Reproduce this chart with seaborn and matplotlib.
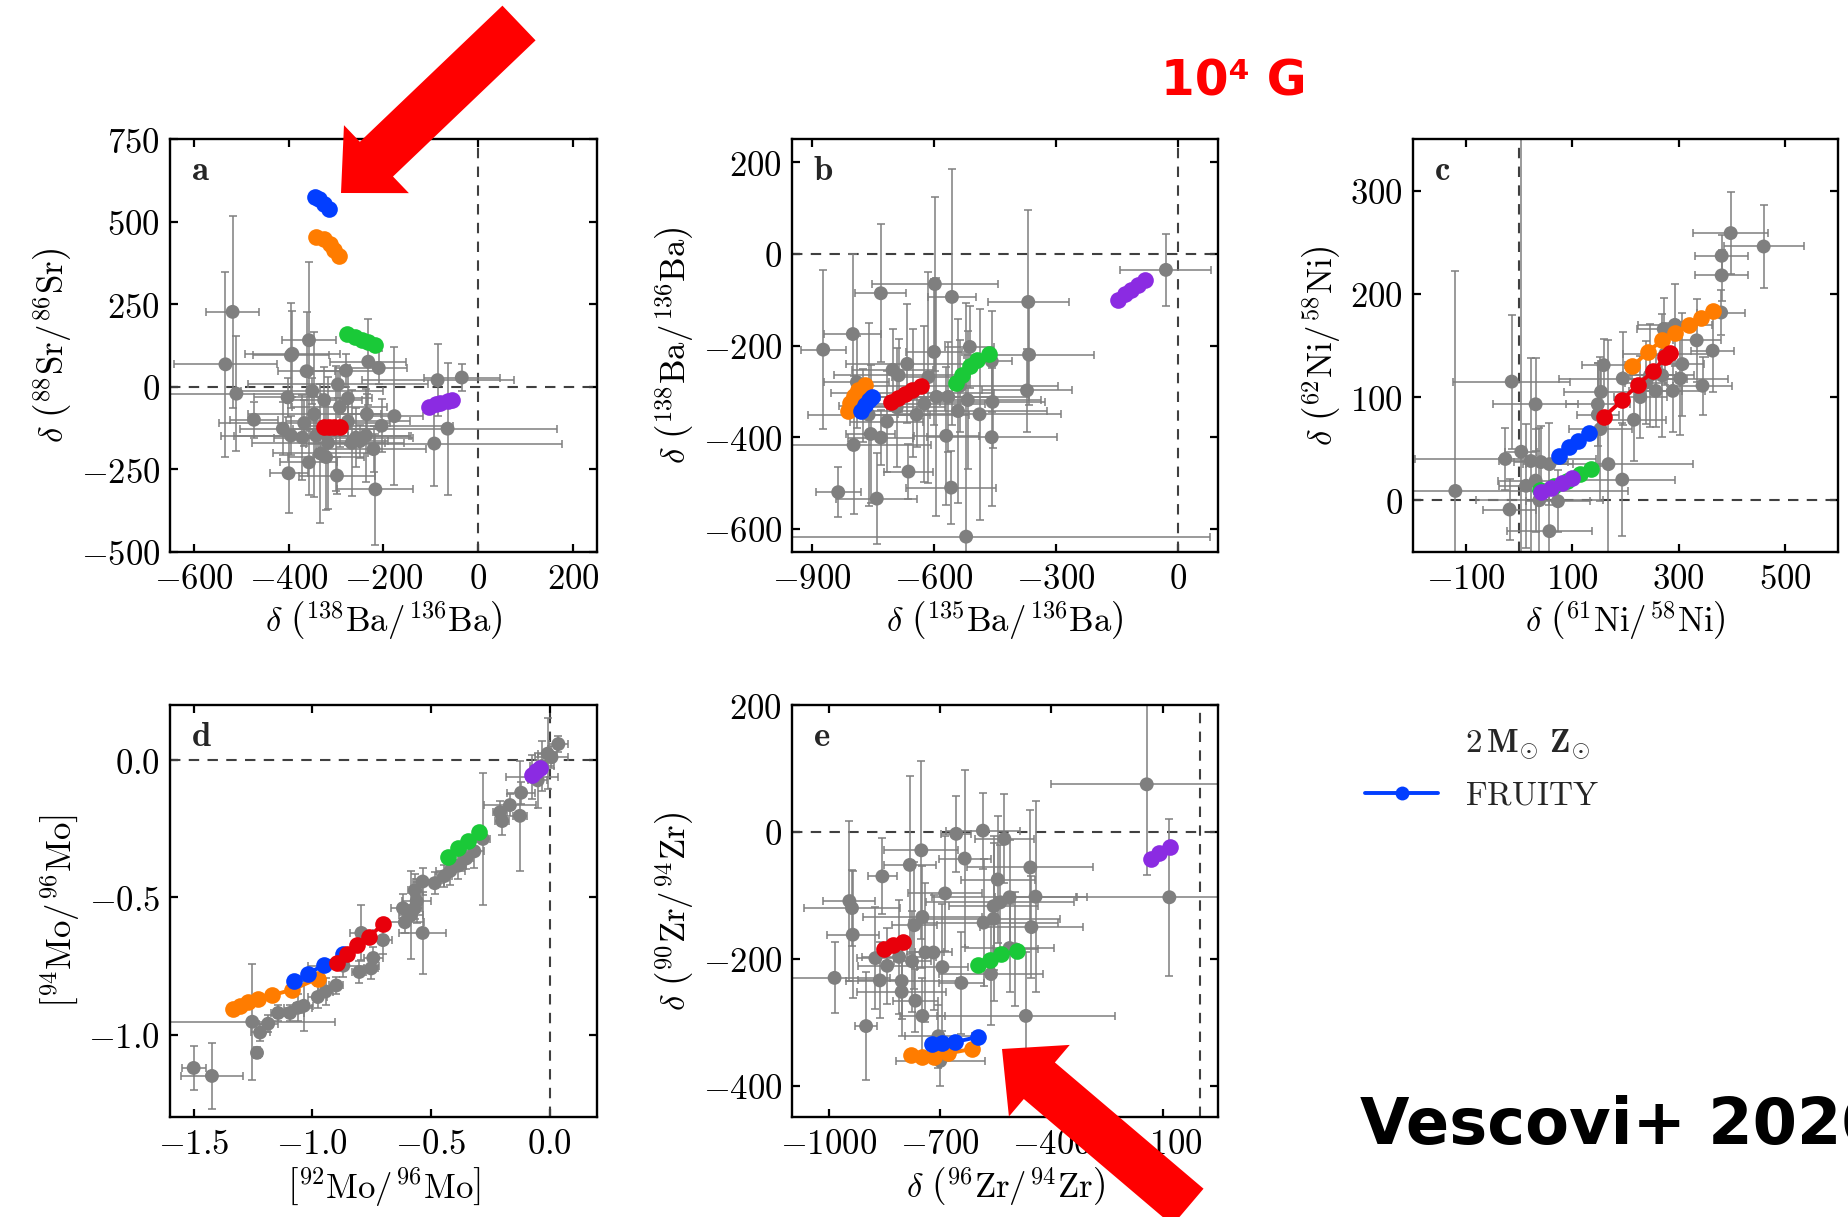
import numpy as np
import matplotlib
matplotlib.use("Agg")
import matplotlib.pyplot as plt
from matplotlib.ticker import FuncFormatter, FixedLocator
from matplotlib.patches import FancyArrow
from matplotlib.lines import Line2D
import seaborn as sns

# ---------------------------------------------------------------- grain data
# panel a : d(138Ba/136Ba) vs d(88Sr/86Sr)
a_x = [-518, -533, -510, -473, -392, -395, -357, -362, -402, -412, -395, -400, -357, -321, -298,
       -217, -221, -237, -235, -204, -177, -232, -210, -279, -296, -86, -35, -65, -93, -350,
       -325, -346, -292, -275, -267, -317, -342, -300, -250, -367, -333, -275, -258, -371]
a_y = [227, 68, -21, -100, 100, 95, 141, 47, -32, -127, -148, -262, -229, -213, -269,
       -311, -189, -148, -83, -118, -89, 76, 57, 49, 7, 20, 28, -127, -172, -13,
       -40, -83, -62, -105, -170, -170, -148, -127, -165, -110, -202, -35, -154, -154]
a_xe = [55, 108, 170, 50, 100, 80, 56, 60, 70, 90, 120, 40, 60, 80, 80,
        80, 110, 90, 60, 150, 60, 80, 60, 70, 190, 160, 80, 230, 270, 150,
        80, 140, 100, 130, 70, 160, 200, 90, 60, 180, 100, 50, 120, 60]
a_ye = [290, 280, 175, 55, 130, 160, 236, 180, 60, 80, 60, 119, 100, 160, 55,
        168, 70, 140, 60, 80, 210, 130, 50, 50, 40, 110, 40, 200, 130, 40,
        100, 250, 120, 70, 160, 200, 60, 190, 50, 70, 210, 90, 90, 130]

# panel b : d(135Ba/136Ba) vs d(138Ba/136Ba)
b_x = [-873, -800, -731, -798, -836, -741, -663, -598, -556, -600, -512, -458, -368, -366, -371,
       -29, -558, -521, -458, -456, -488, -570, -702, -687, -666, -790, -756, -731, -761, -643,
       -653, -614, -594, -565, -536, -517, -541, -692, -716, -775, -624]
b_y = [-209, -175, -86, -417, -520, -534, -475, -66, -94, -214, -203, -234, -105, -220, -298,
       -35, -510, -617, -400, -323, -350, -397, -253, -265, -240, -280, -393, -401, -351, -351,
       -304, -269, -312, -312, -288, -319, -343, -335, -366, -331, -327]
b_xe = [55, 70, 63, 190, 55, 100, 60, 156, 60, 70, 60, 50, 100, 160, 110,
        112, 110, 600, 160, 130, 200, 80, 100, 160, 150, 80, 60, 80, 150, 130,
        200, 90, 140, 200, 240, 180, 220, 120, 90, 60, 150]
b_ye = [173, 175, 150, 150, 55, 100, 60, 190, 280, 160, 90, 110, 200, 110, 90,
        79, 80, 510, 150, 100, 230, 150, 90, 80, 130, 100, 150, 60, 200, 70,
        140, 230, 260, 120, 100, 150, 200, 130, 110, 80, 170]

# panel c : d(61Ni/58Ni) vs d(62Ni/58Ni)
c_x = [-120, -14, 31, 4, -26, -18, 57, 22, 41, 57, 13, 31, 38, 73, 168,
       194, 153, 148, 148, 154, 159, 195, 216, 228, 257, 269, 272, 293, 289, 303,
       307, 334, 345, 364, 380, 381, 381, 398, 460, 246, 239, 275]
c_y = [9, 115, 93, 47, 40, -9, -30, 38, 37, 35, 14, 19, 0, -1, 35,
       20, 69, 83, 93, 105, 131, 118, 78, 100, 106, 121, 166, 170, 106, 118,
       132, 155, 111, 145, 182, 218, 237, 259, 246, 121, 114, 142]
c_xe = [325, 110, 80, 30, 170, 50, 80, 60, 50, 45, 50, 70, 120, 60, 160,
        100, 60, 40, 60, 70, 40, 120, 60, 50, 50, 60, 50, 70, 60, 90,
        40, 45, 55, 40, 45, 50, 50, 70, 75, 50, 40, 80]
c_ye = [213, 65, 45, 400, 30, 30, 35, 100, 35, 40, 60, 50, 70, 30, 120,
        55, 70, 50, 40, 30, 25, 45, 40, 40, 35, 60, 30, 40, 40, 55,
        50, 40, 28, 40, 22, 25, 20, 40, 40, 50, 40, 30]

# panel d : [92Mo/96Mo] vs [94Mo/96Mo]
d_x = [-1.500, -1.423, -1.233, -1.253, -1.220, -1.186, -1.144, -1.094, -1.061, -1.036, -0.977, -0.944,
       -0.899, -0.869, -0.802, -0.752, -0.743, -0.702, -0.793, -0.618, -0.610, -0.585, -0.560, -0.568,
       -0.535, -0.535, -0.484, -0.443, -0.418, -0.384, -0.351, -0.317, -0.281, -0.200, -0.209, -0.167,
       -0.125, -0.120, -0.075, -0.033, -0.008, 0.008, 0.037, -0.050, -0.568]
d_y = [-1.120, -1.149, -1.065, -0.952, -0.991, -0.959, -0.920, -0.920, -0.901, -0.894, -0.862, -0.842,
       -0.820, -0.748, -0.771, -0.758, -0.720, -0.655, -0.629, -0.539, -0.590, -0.565, -0.513, -0.474,
       -0.442, -0.629, -0.448, -0.422, -0.403, -0.384, -0.358, -0.332, -0.287, -0.222, -0.190, -0.164,
       -0.203, -0.119, -0.061, -0.022, 0.023, 0.010, 0.058, -0.074, -0.539]
d_xe = [0.05, 0.13, 0.02, 0.35, 0.04, 0.04, 0.03, 0.06, 0.06, 0.04, 0.04, 0.03,
        0.03, 0.15, 0.03, 0.03, 0.04, 0.04, 0.05, 0.05, 0.08, 0.05, 0.06, 0.03,
        0.04, 0.10, 0.04, 0.03, 0.06, 0.03, 0.03, 0.04, 0.03, 0.03, 0.03, 0.11,
        0.03, 0.06, 0.11, 0.05, 0.04, 0.07, 0.04, 0.04, 0.03]
d_ye = [0.08, 0.12, 0.02, 0.21, 0.03, 0.03, 0.03, 0.03, 0.05, 0.09, 0.04, 0.05,
        0.03, 0.04, 0.04, 0.04, 0.04, 0.05, 0.10, 0.05, 0.04, 0.16, 0.08, 0.06,
        0.05, 0.15, 0.04, 0.04, 0.05, 0.05, 0.04, 0.06, 0.24, 0.05, 0.04, 0.04,
        0.20, 0.04, 0.08, 0.09, 0.13, 0.04, 0.03, 0.10, 0.04]

# panel e : d(96Zr/94Zr) vs d(90Zr/94Zr)
e_x = [-143, -82, -985, -945, -938, -936, -900, -856, -875, -863, -843, -811, -804, -804, -782,
       -751, -776, -767, -748, -770, -740, -718, -748, -687, -694, -657, -634, -643, -585, -545,
       -527, -583, -556, -556, -538, -513, -457, -443, -454, -563, -513, -469, -705, -700, -497]
e_y = [75, -103, -230, -109, -120, -162, -306, -70, -199, -234, -211, -197, -235, -252, -52,
       -29, -204, -266, -134, -147, -190, -190, -290, -97, -213, -3, -42, -238, 2, -75,
       -11, -143, -137, -117, -111, -103, -56, -102, -150, -224, -183, -290, -322, -361, -185]
e_xe = [257, 250, 150, 70, 130, 70, 30, 40, 50, 60, 80, 100, 150, 120, 70,
        100, 50, 60, 160, 60, 50, 50, 60, 100, 70, 40, 70, 60, 100, 100,
        80, 200, 180, 120, 200, 210, 170, 110, 140, 140, 120, 240, 90, 120, 60]
e_ye = [143, 124, 56, 126, 60, 100, 85, 60, 80, 60, 60, 90, 60, 70, 140,
        140, 80, 50, 80, 100, 110, 90, 60, 90, 100, 60, 140, 80, 60, 100,
        70, 100, 130, 100, 90, 90, 90, 150, 80, 80, 70, 100, 50, 40, 90]

# ---------------------------------------------------------------- model tracks
a_orange = ([-342, -325, -313, -305, -293], [455, 448, 433, 415, 396])
a_blue = ([-344, -335, -325, -315], [575, 568, 555, 540])
a_red = ([-325, -315, -305, -292], [-121, -121, -121, -121])
a_green = ([-277, -260, -245, -232, -218], [160, 152, 143, 135, 127])
a_purple = ([-104, -90, -80, -65, -55], [-60, -52, -48, -43, -40])

b_orange = ([-811, -806, -798, -788, -770], [-342, -325, -310, -298, -287])
b_blue = ([-780, -770, -760, -752], [-343, -330, -318, -313])
b_red = ([-707, -690, -672, -655, -632], [-323, -315, -305, -298, -288])
b_green = ([-546, -530, -512, -495, -465], [-282, -265, -245, -232, -218])
b_purple = ([-146, -130, -115, -98, -80], [-101, -88, -78, -68, -58])

c_orange = ([213, 243, 268, 294, 319, 343, 364], [130, 144, 155, 162, 170, 177, 183])
c_blue = ([75, 93, 111, 132], [43, 52, 57, 65])
c_red = ([160, 194, 223, 252, 275, 284], [81, 97, 112, 125, 139, 143])
c_green = ([40, 65, 90, 115, 135], [10, 14, 19, 25, 30])
c_purple = ([42, 60, 80, 100], [8, 12, 17, 22])

d_orange = ([-1.336, -1.303, -1.273, -1.228, -1.169, -1.086, -0.977],
            [-0.907, -0.894, -0.881, -0.868, -0.855, -0.836, -0.795])
d_blue = ([-1.077, -1.019, -0.952, -0.869], [-0.804, -0.778, -0.745, -0.707])
d_red = ([-0.894, -0.852, -0.810, -0.760, -0.702], [-0.739, -0.707, -0.674, -0.642, -0.597])
d_green = ([-0.426, -0.384, -0.342, -0.297], [-0.351, -0.319, -0.293, -0.261])
d_purple = ([-0.075, -0.058, -0.042], [-0.054, -0.041, -0.028])

e_orange = ([-780, -748, -716, -678, -614], [-351, -355, -354, -349, -342])
e_blue = ([-721, -694, -659, -598], [-335, -332, -331, -323])
e_red = ([-851, -827, -801], [-185, -179, -174])
e_green = ([-598, -567, -535, -492], [-210, -202, -193, -188])
e_purple = ([-132, -109, -80], [-42, -34, -24])

# ---------------------------------------------------------------- axes text
labels_x = [r"$\delta\ \left(^{138}\mathrm{Ba}/^{136}\mathrm{Ba}\right)$",
            r"$\delta\ \left(^{135}\mathrm{Ba}/^{136}\mathrm{Ba}\right)$",
            r"$\delta\ \left(^{61}\mathrm{Ni}/^{58}\mathrm{Ni}\right)$",
            r"$\left[^{92}\mathrm{Mo}/^{96}\mathrm{Mo}\right]$",
            r"$\delta\ \left(^{96}\mathrm{Zr}/^{94}\mathrm{Zr}\right)$"]
labels_y = [r"$\delta\ \left(^{88}\mathrm{Sr}/^{86}\mathrm{Sr}\right)$",
            r"$\delta\ \left(^{138}\mathrm{Ba}/^{136}\mathrm{Ba}\right)$",
            r"$\delta\ \left(^{62}\mathrm{Ni}/^{58}\mathrm{Ni}\right)$",
            r"$\left[^{94}\mathrm{Mo}/^{96}\mathrm{Mo}\right]$",
            r"$\delta\ \left(^{90}\mathrm{Zr}/^{94}\mathrm{Zr}\right)$"]
panel_tags = ["a", "b", "c", "d", "e"]
xticks = [[-600, -400, -200, 0, 200], [-900, -600, -300, 0], [-100, 100, 300, 500],
          [-1.5, -1.0, -0.5, 0.0], [-1000, -700, -400, -100]]
yticks = [[-500, -250, 0, 250, 500, 750], [-600, -400, -200, 0, 200], [0, 100, 200, 300],
          [-1.0, -0.5, 0.0], [-400, -200, 0, 200]]
xlims = [(-650, 250), (-950, 100), (-200, 600), (-1.6, 0.2), (-1100, 50)]
ylims = [(-500, 750), (-650, 250), (-50, 350), (-1.3, 0.2), (-450, 200)]

# ---------------------------------------------------------------- style
sns.set_style("ticks")
plt.rcParams.update({
    "font.family": ["DejaVu Sans"],
    "mathtext.fontset": "cm",
    "xtick.direction": "in", "ytick.direction": "in",
    "xtick.top": True, "ytick.right": True,
    "xtick.major.size": 6, "ytick.major.size": 6,
    "xtick.major.width": 1.6, "ytick.major.width": 1.6,
    "xtick.color": "black", "ytick.color": "black",
    "axes.edgecolor": "black", "axes.linewidth": 1.7,
    "axes.labelcolor": "black",
})

pal = sns.color_palette("bright")
col_blue, col_orange, col_green, col_red, col_purple = pal[0], pal[1], pal[2], pal[3], pal[4]
grey = "#7f7f7f"
FS = 25

W, H = 1849, 1217
fig = plt.figure(figsize=(W / 100, H / 100), dpi=100)

rects = [[0.0919, 0.5466, 0.2310, 0.3390],
         [0.4283, 0.5466, 0.2306, 0.3390],
         [0.7641, 0.5466, 0.2300, 0.3390],
         [0.0919, 0.0818, 0.2310, 0.3389],
         [0.4283, 0.0818, 0.2306, 0.3389]]

grains = [(a_x, a_y, a_xe, a_ye), (b_x, b_y, b_xe, b_ye), (c_x, c_y, c_xe, c_ye),
          (d_x, d_y, d_xe, d_ye), (e_x, e_y, e_xe, e_ye)]
tracks = [[(a_orange, col_orange), (a_blue, col_blue), (a_red, col_red), (a_green, col_green), (a_purple, col_purple)],
          [(b_orange, col_orange), (b_blue, col_blue), (b_red, col_red), (b_green, col_green), (b_purple, col_purple)],
          [(c_orange, col_orange), (c_blue, col_blue), (c_red, col_red), (c_green, col_green), (c_purple, col_purple)],
          [(d_orange, col_orange), (d_blue, col_blue), (d_red, col_red), (d_green, col_green), (d_purple, col_purple)],
          [(e_orange, col_orange), (e_blue, col_blue), (e_red, col_red), (e_green, col_green), (e_purple, col_purple)]]

for i in range(5):
    ax = fig.add_axes(rects[i])
    gx, gy, gxe, gye = grains[i]
    ax.axhline(0, color="#404040", ls=(0, (5, 4)), lw=1.5, zorder=1)
    ax.axvline(0, color="#404040", ls=(0, (5, 4)), lw=1.5, zorder=1)
    ax.errorbar(gx, gy, xerr=gxe, yerr=gye, fmt="none", ecolor=grey,
                elinewidth=1.3, capsize=3, capthick=1.3, alpha=0.85, zorder=2)
    sns.scatterplot(x=gx, y=gy, ax=ax, color=grey, s=100, edgecolor="none",
                    linewidth=0, zorder=3, legend=False)
    for (tx, ty), c in tracks[i]:
        sns.lineplot(x=tx, y=ty, ax=ax, color=c, sort=False, estimator=None,
                     marker="o", markersize=12, markeredgewidth=0, lw=2.8,
                     zorder=4, legend=False)
    ax.set_xlim(*xlims[i])
    ax.set_ylim(*ylims[i])
    ax.xaxis.set_major_locator(FixedLocator(xticks[i]))
    ax.yaxis.set_major_locator(FixedLocator(yticks[i]))
    if i == 3:
        fmt = FuncFormatter(lambda v, p: "$%.1f$" % v)
    else:
        fmt = FuncFormatter(lambda v, p: "$%g$" % v)
    ax.xaxis.set_major_formatter(fmt)
    ax.yaxis.set_major_formatter(fmt)
    ax.tick_params(labelsize=FS, pad=7)
    ax.set_xlabel(labels_x[i], fontsize=FS, labelpad=3)
    ax.set_ylabel(labels_y[i], fontsize=FS, labelpad=5)
    ax.text(0.05, 0.90, r"$\mathbf{%s}$" % panel_tags[i], transform=ax.transAxes,
            fontsize=25, ha="left", va="baseline")
    for s in ax.spines.values():
        s.set_visible(True)
        s.set_zorder(5)

# legend for the model set
h_title = Line2D([], [], ls="none", marker=None)
h_fruity = Line2D([], [], color=col_blue, marker="o", lw=2.8, ms=10, mew=0)
fig.legend(handles=[h_title, h_fruity],
           labels=[r"$\mathbf{2\,M}_{\odot}\ \mathbf{Z}_{\odot}$", r"$\mathrm{FRUITY}$"],
           loc="upper left", bbox_to_anchor=(1365 / W, 1 - 726 / H),
           frameon=False, fontsize=24, handlelength=2.2, handletextpad=0.8,
           labelspacing=0.5, borderpad=0, borderaxespad=0)

fig.text(1234 / W, 1 - 96 / H, "10⁴ G", ha="center", va="baseline",
         color="red", fontsize=35, fontweight="bold")
fig.text(1360 / W, 1 - 1144 / H, "Vescovi+ 2020", ha="left", va="baseline",
         color="black", fontsize=46, fontweight="bold")

# highlight arrows drawn in pixel space on a transparent overlay
ov = fig.add_axes([0, 0, 1, 1], zorder=20)
ov.set_xlim(0, W)
ov.set_ylim(H, 0)
ov.axis("off")
ov.patch.set_alpha(0)
for (x0, y0), (x1, y1) in [((519, 23), (341, 193)), ((1188, 1207), (1002, 1049))]:
    ov.add_patch(FancyArrow(x0, y0, x1 - x0, y1 - y0, width=48, head_width=94,
                            head_length=49, length_includes_head=True,
                            color="#ff0000", lw=0))

fig.savefig("out.png", dpi=100)
